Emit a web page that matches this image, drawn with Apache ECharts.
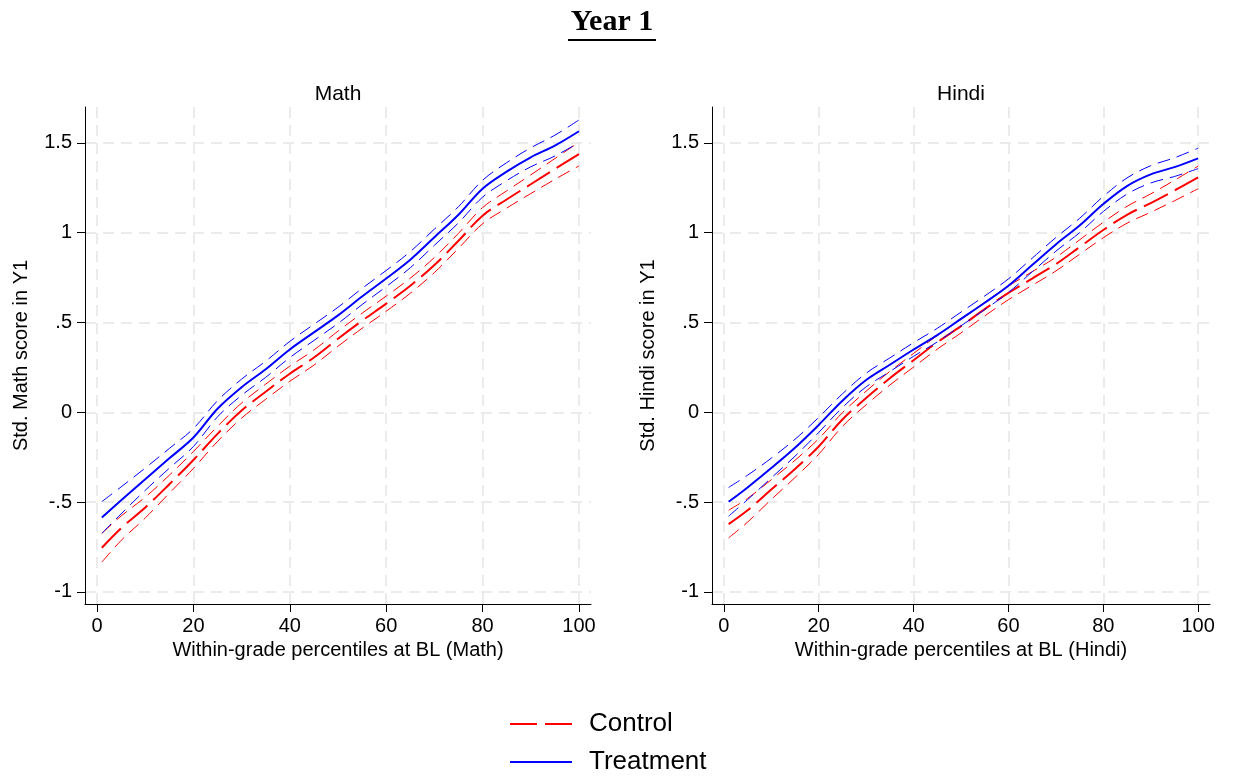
<!DOCTYPE html>
<html>
<head>
<meta charset="utf-8">
<script src="https://cdn.jsdelivr.net/npm/echarts@6/dist/echarts.min.js"></script>
<style>
html,body{margin:0;padding:0;background:#ffffff;}
#chart{width:1233px;height:780px;}
</style>
</head>
<body>
<div id="chart"></div>
<script>
// ---------- data ----------
const percentiles = [1, 5, 10, 15, 20, 25, 30, 35, 40, 45, 50, 55, 60, 65, 70, 75, 80, 85, 90, 95, 100];

// Math panel
const mathTreatment      = [-0.585, -0.490, -0.372, -0.256, -0.140, 0.020, 0.140, 0.240, 0.350, 0.445, 0.540, 0.645, 0.745, 0.850, 0.975, 1.100, 1.245, 1.340, 1.420, 1.485, 1.565];
const mathTreatmentHigh  = [-0.497, -0.415, -0.310, -0.201, -0.090, 0.065, 0.185, 0.285, 0.395, 0.490, 0.585, 0.690, 0.790, 0.895, 1.020, 1.145, 1.292, 1.390, 1.473, 1.543, 1.628];
const mathTreatmentLow   = [-0.673, -0.565, -0.434, -0.311, -0.190, -0.025, 0.095, 0.195, 0.305, 0.400, 0.495, 0.600, 0.700, 0.805, 0.930, 1.055, 1.198, 1.290, 1.367, 1.427, 1.502];
const mathControl        = [-0.754, -0.645, -0.530, -0.400, -0.265, -0.120, 0.010, 0.115, 0.215, 0.305, 0.410, 0.510, 0.605, 0.705, 0.820, 0.955, 1.095, 1.185, 1.270, 1.355, 1.438];
const mathControlHigh    = [-0.674, -0.577, -0.472, -0.350, -0.218, -0.078, 0.052, 0.157, 0.257, 0.347, 0.452, 0.552, 0.647, 0.747, 0.862, 0.997, 1.140, 1.233, 1.322, 1.413, 1.504];
const mathControlLow     = [-0.834, -0.713, -0.588, -0.450, -0.312, -0.162, -0.032, 0.073, 0.173, 0.263, 0.368, 0.468, 0.563, 0.663, 0.778, 0.913, 1.050, 1.137, 1.218, 1.297, 1.372];

// Hindi panel
const hindiTreatment     = [-0.498, -0.418, -0.310, -0.197, -0.070, 0.065, 0.180, 0.265, 0.350, 0.430, 0.520, 0.610, 0.705, 0.820, 0.935, 1.040, 1.160, 1.260, 1.325, 1.365, 1.414];
const hindiTreatmentHigh = [-0.418, -0.350, -0.255, -0.150, -0.028, 0.103, 0.218, 0.303, 0.388, 0.468, 0.558, 0.648, 0.743, 0.858, 0.973, 1.080, 1.202, 1.305, 1.373, 1.417, 1.471];
const hindiTreatmentLow  = [-0.578, -0.486, -0.365, -0.244, -0.112, 0.027, 0.142, 0.227, 0.312, 0.392, 0.482, 0.572, 0.667, 0.782, 0.897, 1.000, 1.118, 1.215, 1.277, 1.313, 1.357];
const hindiControl       = [-0.622, -0.545, -0.430, -0.315, -0.190, -0.040, 0.080, 0.190, 0.290, 0.390, 0.480, 0.575, 0.665, 0.745, 0.825, 0.920, 1.015, 1.100, 1.165, 1.235, 1.308];
const hindiControlHigh   = [-0.545, -0.479, -0.375, -0.267, -0.147, -0.002, 0.118, 0.228, 0.328, 0.428, 0.518, 0.613, 0.703, 0.783, 0.863, 0.960, 1.058, 1.147, 1.216, 1.292, 1.371];
const hindiControlLow    = [-0.699, -0.611, -0.485, -0.363, -0.233, -0.078, 0.042, 0.152, 0.252, 0.352, 0.442, 0.537, 0.627, 0.707, 0.787, 0.880, 0.972, 1.053, 1.114, 1.178, 1.245];

// ticks and labels
const xTickValues = [0, 20, 40, 60, 80, 100];
const yTickValues = [-1, -0.5, 0, 0.5, 1, 1.5];
const yTickLabels = ['-1', '-.5', '0', '.5', '1', '1.5'];

const panelTitles = ['Math', 'Hindi'];
const xAxisNames = ['Within-grade percentiles at BL (Math)', 'Within-grade percentiles at BL (Hindi)'];
const yAxisNames = ['Std. Math score in Y1', 'Std. Hindi score in Y1'];
const legendNames = ['Control', 'Treatment'];
const mainTitle = 'Year 1';

// ---------- chart ----------
const FONT = "'Liberation Sans', Arial, Helvetica, sans-serif";
const RED = '#ff0000';
const BLUE = '#0000ff';

function pairs(vals) { return percentiles.map((x, i) => [x, vals[i]]); }

const grids = [
  { left: 85, right: 642, top: 107, bottom: 176 },
  { left: 712, right: 23, top: 107, bottom: 176 }
];

function xAxisFor(i) {
  return {
    type: 'value', gridIndex: i, min: -2.5, max: 102.5,
    name: xAxisNames[i], nameLocation: 'middle', nameGap: 36,
    nameTextStyle: { fontFamily: FONT, fontSize: 20, color: '#000' },
    axisLine: { show: true, onZero: false, lineStyle: { color: '#000', width: 1 } },
    axisTick: { show: true, length: 8, lineStyle: { color: '#000', width: 1 }, customValues: xTickValues },
    axisLabel: { customValues: xTickValues, margin: 12, fontFamily: FONT, fontSize: 20, color: '#000' },
    splitLine: { show: true, lineStyle: { color: '#ebebeb', width: 2, type: [11, 7] } }
  };
}
function yAxisFor(i) {
  return {
    type: 'value', gridIndex: i, min: -1.067, max: 1.70,
    name: yAxisNames[i], nameLocation: 'middle', nameGap: 54, nameRotate: 90,
    nameTextStyle: { fontFamily: FONT, fontSize: 20, color: '#000' },
    axisLine: { show: true, onZero: false, lineStyle: { color: '#000', width: 1 } },
    axisTick: { show: true, length: 8, lineStyle: { color: '#000', width: 1 }, customValues: yTickValues },
    axisLabel: {
      customValues: yTickValues, margin: 13, fontFamily: FONT, fontSize: 20, color: '#000',
      formatter: v => { const k = yTickValues.findIndex(t => Math.abs(t - v) < 1e-9); return k >= 0 ? yTickLabels[k] : ''; }
    },
    splitLine: { show: true, lineStyle: { color: '#ebebeb', width: 2, type: [11, 7] } }
  };
}

function lineSeries(name, vals, idx, color, width, dash, z) {
  return {
    type: 'line', name: name, xAxisIndex: idx, yAxisIndex: idx,
    data: pairs(vals), smooth: 0.35, symbol: 'none', showSymbol: false,
    lineStyle: { color: color, width: width, type: dash },
    itemStyle: { color: color }, z: z, silent: true, animation: false
  };
}

const panels = [
  [mathControl, mathControlHigh, mathControlLow, mathTreatment, mathTreatmentHigh, mathTreatmentLow],
  [hindiControl, hindiControlHigh, hindiControlLow, hindiTreatment, hindiTreatmentHigh, hindiTreatmentLow]
];

const series = [];
panels.forEach((p, i) => {
  series.push(lineSeries('Control CI', p[1], i, RED, 1, [13, 7], 2));
  series.push(lineSeries('Control CI', p[2], i, RED, 1, [13, 7], 2));
  series.push(lineSeries(legendNames[0], p[0], i, RED, 2, [27, 8], 3));
  series.push(lineSeries('Treatment CI', p[4], i, BLUE, 1, [13, 7], 4));
  series.push(lineSeries('Treatment CI', p[5], i, BLUE, 1, [13, 7], 4));
  series.push(lineSeries(legendNames[1], p[3], i, BLUE, 2, 'solid', 5));
});

const option = {
  backgroundColor: '#ffffff',
  animation: false,
  grid: grids,
  xAxis: [xAxisFor(0), xAxisFor(1)],
  yAxis: [yAxisFor(0), yAxisFor(1)],
  legend: {
    orient: 'vertical', left: 509, top: 711, height: 69, padding: 0,
    itemWidth: 62, itemHeight: 14, itemGap: 12,
    itemStyle: { opacity: 0 },
    textStyle: { fontFamily: FONT, fontSize: 26, color: '#000', lineHeight: 26, padding: [0, 0, 0, 12] },
    data: [legendNames[0], legendNames[1]],
    selectedMode: false
  },
  graphic: [
    { type: 'text', x: 612, y: 22, style: { text: mainTitle, align: 'center', verticalAlign: 'middle', font: "bold 30px 'Liberation Serif', 'DejaVu Serif', serif", fill: '#000' } },
    { type: 'rect', shape: { x: 568, y: 39, width: 88, height: 2 }, style: { fill: '#000' } },
    { type: 'text', x: 338, y: 94, style: { text: panelTitles[0], align: 'center', verticalAlign: 'middle', font: "21px 'Liberation Sans', Arial, sans-serif", fill: '#000' } },
    { type: 'text', x: 961, y: 94, style: { text: panelTitles[1], align: 'center', verticalAlign: 'middle', font: "21px 'Liberation Sans', Arial, sans-serif", fill: '#000' } }
  ],
  series: series
};

const chart = echarts.init(document.getElementById('chart'), null, { renderer: 'canvas' });
chart.setOption(option);
</script>
</body>
</html>
